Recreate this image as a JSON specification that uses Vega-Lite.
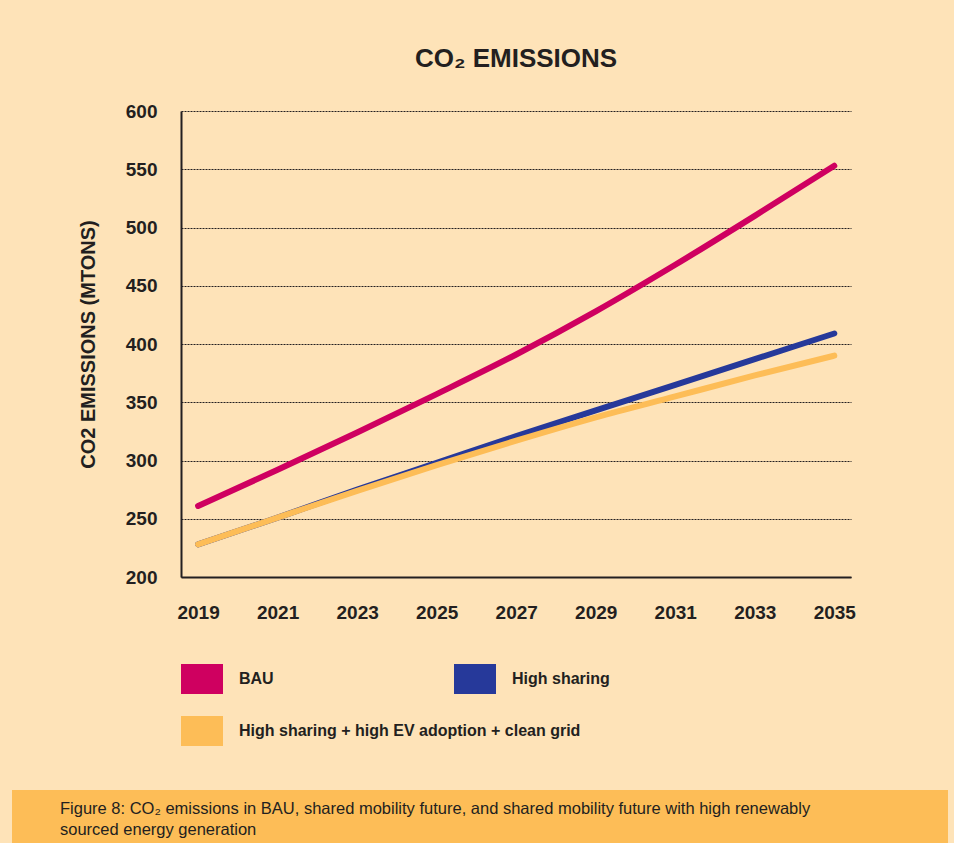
{
  "$schema": "https://vega.github.io/schema/vega-lite/v6.json",
  "background": "#fee3b8",
  "padding": {"left": 12, "top": 46, "right": 6, "bottom": 0},
  "config": {"font": "Liberation Sans", "view": {"stroke": null}},
  "spacing": 44,
  "resolve": {"legend": {"color": "independent", "stroke": "independent"}, "scale": {"color": "independent", "stroke": "independent"}},
  "vconcat": [
    {
      "spacing": 10,
      "resolve": {"legend": {"color": "independent", "stroke": "independent"}, "scale": {"color": "independent", "stroke": "independent"}},
      "hconcat": [
        {"width": 56, "height": 10, "data": {"values": []}, "mark": "point"},
        {
          "width": 670,
          "height": 466,
          "title": {"text": "CO₂ EMISSIONS", "fontSize": 26, "fontWeight": "bold", "color": "#231f20", "anchor": "middle", "offset": 30, "font": "Liberation Sans"},
          "data": {"values": [
            {"year": 2019, "co2": 261, "scenario": "BAU"},
            {"year": 2021, "co2": 292, "scenario": "BAU"},
            {"year": 2023, "co2": 324, "scenario": "BAU"},
            {"year": 2025, "co2": 357, "scenario": "BAU"},
            {"year": 2027, "co2": 391, "scenario": "BAU"},
            {"year": 2029, "co2": 428, "scenario": "BAU"},
            {"year": 2031, "co2": 468, "scenario": "BAU"},
            {"year": 2033, "co2": 510, "scenario": "BAU"},
            {"year": 2035, "co2": 553, "scenario": "BAU"},
            {"year": 2019, "co2": 228, "scenario": "High sharing"},
            {"year": 2021, "co2": 251, "scenario": "High sharing"},
            {"year": 2023, "co2": 275, "scenario": "High sharing"},
            {"year": 2025, "co2": 298, "scenario": "High sharing"},
            {"year": 2027, "co2": 321, "scenario": "High sharing"},
            {"year": 2029, "co2": 343, "scenario": "High sharing"},
            {"year": 2031, "co2": 365, "scenario": "High sharing"},
            {"year": 2033, "co2": 387, "scenario": "High sharing"},
            {"year": 2035, "co2": 409, "scenario": "High sharing"},
            {"year": 2019, "co2": 228, "scenario": "High sharing + high EV adoption + clean grid"},
            {"year": 2021, "co2": 251, "scenario": "High sharing + high EV adoption + clean grid"},
            {"year": 2023, "co2": 274, "scenario": "High sharing + high EV adoption + clean grid"},
            {"year": 2025, "co2": 296, "scenario": "High sharing + high EV adoption + clean grid"},
            {"year": 2027, "co2": 317, "scenario": "High sharing + high EV adoption + clean grid"},
            {"year": 2029, "co2": 337, "scenario": "High sharing + high EV adoption + clean grid"},
            {"year": 2031, "co2": 355, "scenario": "High sharing + high EV adoption + clean grid"},
            {"year": 2033, "co2": 373, "scenario": "High sharing + high EV adoption + clean grid"},
            {"year": 2035, "co2": 390, "scenario": "High sharing + high EV adoption + clean grid"}
          ]},
          "encoding": {
            "x": {
              "field": "year", "type": "quantitative",
              "scale": {"domain": [2018.57, 2035.42], "nice": false, "zero": false},
              "axis": {"values": [2019, 2021, 2023, 2025, 2027, 2029, 2031, 2033, 2035], "format": "d", "title": null, "grid": false, "ticks": false, "domainWidth": 2, "domainColor": "#231f20", "labelPadding": 26, "labelFontSize": 19, "labelFontWeight": "bold", "labelColor": "#231f20", "labelFlush": false}
            },
            "y": {
              "field": "co2", "type": "quantitative",
              "scale": {"domain": [200, 600], "nice": false, "zero": false},
              "axis": {"values": [200, 250, 300, 350, 400, 450, 500, 550, 600], "title": "CO2 EMISSIONS (MTONS)", "titleFontSize": 20, "titleFontWeight": "bold", "titleColor": "#231f20", "titleX": -93, "titleY": 233, "titleAngle": -90, "titleBaseline": "middle", "titleAlign": "center", "grid": true, "gridDash": [2, 1], "gridColor": "#231f20", "gridWidth": 1, "gridOpacity": 1, "ticks": false, "domainWidth": 2, "domainColor": "#231f20", "labelPadding": 24, "labelFontSize": 19, "labelFontWeight": "bold", "labelColor": "#231f20"}
            }
          },
          "layer": [
            {
              "transform": [{"filter": {"field": "scenario", "oneOf": ["BAU", "High sharing"]}}],
              "mark": {"type": "line", "strokeWidth": 6, "strokeCap": "round", "interpolate": "monotone"},
              "encoding": {
                "color": {
                  "field": "scenario", "type": "nominal",
                  "scale": {"domain": ["BAU", "High sharing"], "range": ["#cf0060", "#26399a"]},
                  "legend": {"orient": "bottom", "offset": 36, "direction": "horizontal", "title": null, "columns": 2, "columnPadding": 180, "symbolType": "M-1,-0.714L1,-0.714L1,0.714L-1,0.714Z", "symbolSize": 1764, "symbolStrokeWidth": 0, "labelOffset": 16, "labelFontSize": 16, "labelFontWeight": "bold", "labelColor": "#231f20", "labelLimit": 500, "padding": 0,
                    "encode": {"symbols": {"update": {"fill": [{"test": "datum.value === 'BAU'", "value": "#cf0060"}, {"value": "#26399a"}], "opacity": {"value": 1}, "strokeWidth": {"value": 0}}}}}
                }
              }
            },
            {
              "transform": [{"filter": {"field": "scenario", "equal": "High sharing + high EV adoption + clean grid"}}],
              "mark": {"type": "line", "strokeWidth": 6, "strokeCap": "round", "interpolate": "monotone"},
              "encoding": {
                "stroke": {
                  "field": "scenario", "type": "nominal",
                  "scale": {"domain": ["High sharing + high EV adoption + clean grid"], "range": ["#fdbd57"]},
                  "legend": {"orient": "none", "legendX": 0, "legendY": 599, "title": null, "symbolType": "M-1,-0.714L1,-0.714L1,0.714L-1,0.714Z", "symbolSize": 1764, "symbolStrokeWidth": 0, "labelOffset": 16, "labelFontSize": 16, "labelFontWeight": "bold", "labelColor": "#231f20", "labelLimit": 500, "padding": 0,
                    "encode": {"symbols": {"update": {"fill": {"value": "#fdbd57"}, "opacity": {"value": 1}, "strokeWidth": {"value": 0}}}}}
                }
              }
            }
          ]
        }
      ]
    },
    {
      "width": 936,
      "height": 53,
      "view": {"fill": "#fdbd57", "stroke": null},
      "title": {"text": ["Figure 8: CO₂ emissions in BAU, shared mobility future, and shared mobility future with high renewably", "sourced energy generation"], "anchor": "start", "orient": "top", "offset": -48, "baseline": "top", "dx": 48, "fontSize": 16.5, "fontWeight": "normal", "color": "#231f20", "lineHeight": 21},
      "data": {"values": []},
      "mark": "point"
    }
  ]
}
